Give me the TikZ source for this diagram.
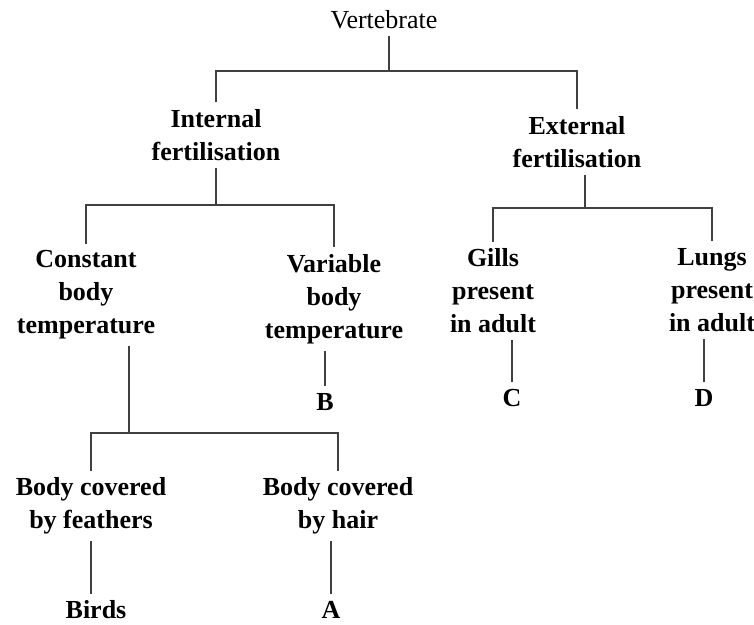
\documentclass[tikz,border=0pt]{standalone}
\usepackage{fontspec}
\setmainfont{Liberation Serif}
\usetikzlibrary{positioning}

\begin{document}
\begin{tikzpicture}[x=1pt,y=-1pt,
 lbl/.style={align=center,inner sep=0pt,outer sep=7pt,font=\fontsize{26}{33}\selectfont\bfseries},
 br/.style={draw=black!75,line width=1.4pt}]
 \useasboundingbox (0,0) rectangle (754,624);
 \node[lbl,font=\fontsize{26}{33}\selectfont] (vert) at (384,20) {Vertebrate};
 \node[lbl] (intf) at (216,135) {Internal\\fertilisation};
 \node[lbl] (extf) at (577,142) {External\\fertilisation};
 \node[lbl] (cons) at (86,295) {Constant\\body\\temperature};
 \node[lbl] (varb) at (334,299) {Variable\\body\\temperature};
 \node[lbl] (gill) at (493,291) {Gills\\present\\in adult};
 \node[lbl] (lung) at (712,290) {Lungs\\present\\in adult};
 \node[lbl] (B) at (325,402) {B};
 \node[lbl] (C) at (512,398) {C};
 \node[lbl] (D) at (704,398) {D};
 \node[lbl] (fea) at (91,506) {Body covered\\by feathers};
 \node[lbl] (hair) at (338,506) {Body covered\\by hair};
 \node[lbl] (bird) at (96,610) {Birds};
 \node[lbl] (A) at (331,610) {A};
 \coordinate (j1) at (389,71);
 \coordinate (j2) at (216,205);
 \coordinate (j3) at (585,208);
 \coordinate (j4) at (129,433);
 \draw[br] (vert.south -| j1) -- (j1);
 \draw[br] (intf.north) |- (j1) -| (extf.north);
 \draw[br] (intf.south) -- (j2);
 \draw[br] (cons.north) |- (j2) -| (varb.north);
 \draw[br] (extf.south -| j3) -- (j3);
 \draw[br] (gill.north) |- (j3) -| (lung.north);
 \draw[br] (cons.south -| j4) -- (j4);
 \draw[br] (fea.north) |- (j4) -| (hair.north);
 \draw[br] (B.north) -- (B.north |- varb.south);
 \draw[br] (C.north) -- (C.north |- gill.south);
 \draw[br] (D.north) -- (D.north |- lung.south);
 \draw[br] (bird.north -| fea) -- (fea.south);
 \draw[br] (A.north) -- (A.north |- hair.south);
\end{tikzpicture}
\end{document}
